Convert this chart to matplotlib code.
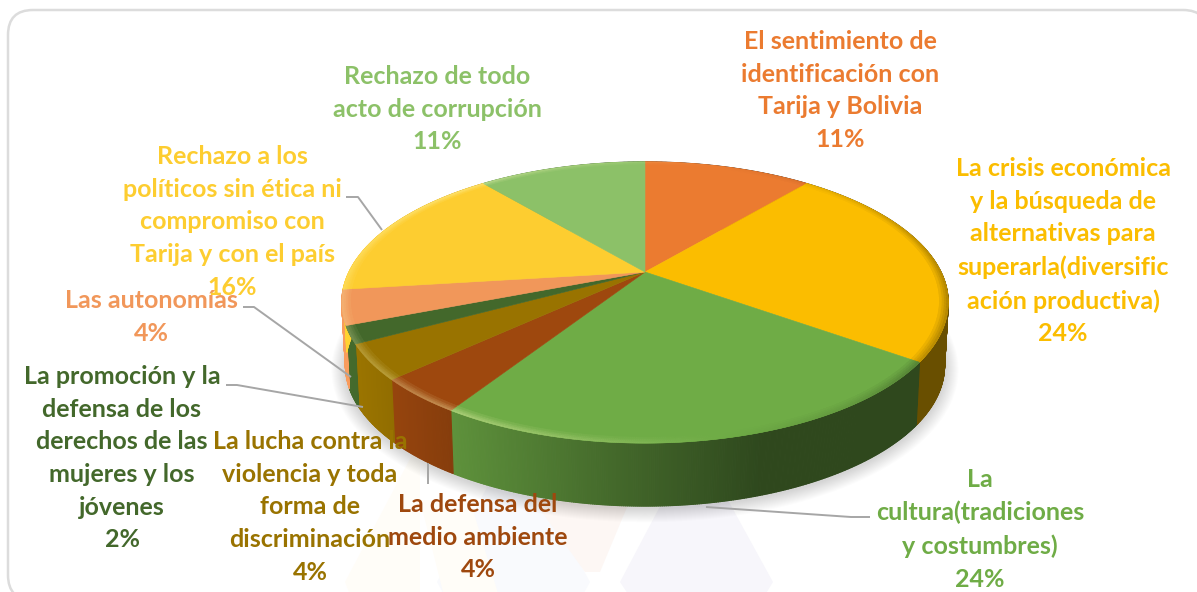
import numpy as np
import matplotlib
matplotlib.use('Agg')
import matplotlib.pyplot as plt
from matplotlib.collections import PolyCollection
from matplotlib.colors import to_rgb
from matplotlib.patches import FancyBboxPatch

# --- Data, clockwise from the top of the pie ---
labels = [
    'El sentimiento de\nidentificación con\nTarija y Bolivia',
    'La crisis económica\ny la búsqueda de\nalternativas para\nsuperarla(diversific\nación productiva)',
    'La\ncultura(tradiciones\ny costumbres)',
    'La defensa del\nmedio ambiente',
    'La lucha contra la\nviolencia y toda\nforma de\ndiscriminación',
    'La promoción y la\ndefensa de los\nderechos de las\nmujeres y los\njóvenes',
    'Las autonomías',
    'Rechazo a los\npolíticos sin ética ni\ncompromiso con\nTarija y con el país',
    'Rechazo de todo\nacto de corrupción',
]
values = [11, 24, 24, 4, 4, 2, 4, 16, 11]
colors = ['#eb7b30', '#fbbd00', '#6fac46', '#9e480e', '#997300',
          '#43682b', '#f1975a', '#fdcd30', '#8cc168']

# label centre x and y of first line, in pixels
label_x = [840, 1063, 980, 478, 310, 122, 151, 232, 437]
label_y = [42, 169, 480, 505, 442, 377, 301, 157, 77]

# leader lines
leader_x = [[346, 358, 382], [243, 254, 351], [226, 237, 363], [428, 428], [706, 851, 870]]
leader_y = [[197, 197, 230], [307, 307, 377], [385, 385, 407], [463, 484], [507, 517, 517]]

# --- Pie geometry (pixels), a circle seen in perspective ---
cx, cy = 645, 272
sx, sy = 296, 134
k = 0.217
wall = 63


def project(theta, r=1.0, depth=0.0):
    u = r * np.sin(theta)
    v = r * np.cos(theta)
    d = 1 + k * v
    shrink = 1 - 0.012 * depth / wall
    return cx + sx * u / d * shrink, cy - sy * v / d + depth


def mix(col, other, t):
    return tuple((1 - t) * a + t * b for a, b in zip(col, other))


fig = plt.figure(figsize=(11.97, 5.92), dpi=100)
ax = fig.add_axes([0, 0, 1, 1])
ax.set_xlim(0, 1197)
ax.set_ylim(592, 0)
ax.axis('off')

# --- Card frame ---
ax.add_patch(FancyBboxPatch((8 + 25, 10 + 25), 1200 - 50, 590 - 50,
                            boxstyle='round,pad=25,rounding_size=25',
                            fc='white', ec='#dcdcdc', lw=1.8, zorder=0))

# --- Faint watermark shapes behind the chart ---
ax.fill([620, 695, 773, 762, 632], [582, 440, 582, 600, 600], color='#f7f6fb', lw=0, zorder=1)
ax.fill([437, 512, 590, 580, 447], [582, 440, 582, 600, 600], color='#f9fafd', lw=0, zorder=1)
ax.fill([345, 420, 420, 352], [582, 440, 600, 600], color='#fffdf8', lw=0, zorder=1)
ax.fill([420, 470, 500, 445], [500, 500, 600, 600], color='#fffdf8', lw=0, zorder=1)
ax.fill([490, 630, 600, 585], [440, 500, 572, 572], color='#fdf7f4', lw=0, zorder=1)

# --- Soft shadow under the pie ---
t = np.linspace(0, 2 * np.pi, 361)
for grow in np.arange(1, 15, 1.0):
    px, py = project(t, 1.0, wall)
    ax.fill(cx + (px - cx) * (1 + grow / 300), cy + wall + (py - cy - wall) * (1 + grow / 170) + 2,
            color='black', alpha=0.012, lw=0, zorder=2)

# --- Slice edges from the values ---
edges = np.cumsum([0] + values) / sum(values) * 2 * np.pi

side_polys, side_cols = [], []
bevel_polys, bevel_cols = [], []
for i, value in enumerate(values):
    base = to_rgb(colors[i])
    th = np.linspace(edges[i], edges[i + 1], max(int(value * 12), 4) + 1)
    # side wall, shaded by horizontal position
    for a, b in zip(th[:-1], th[1:]):
        x0, y0 = project(a)
        x1, y1 = project(b)
        x2, y2 = project(b, 1.0, wall)
        x3, y3 = project(a, 1.0, wall)
        f = np.interp((x0 + x1) / 2, [345, 455, 620, 760], [1.03, 0.84, 0.6, 0.42])
        side_polys.append([(x0, y0), (x1, y1), (x2, y2), (x3, y3)])
        side_cols.append(tuple(min(c * f, 1) for c in base))

    # top face
    rim_x, rim_y = project(th)
    ax.fill(np.r_[cx, rim_x], np.r_[cy, rim_y], color=colors[i], lw=0.4, zorder=5)

    # bevel along the rim
    for a, b in zip(th[:-1], th[1:]):
        xm = project((a + b) / 2)[0]
        light = np.interp(xm, [345, 455, 560, 720, 850, 948], [0.25, 0.4, 0.25, 0.0, 0.0, 0.0])
        dark = np.interp(xm, [720, 850, 948], [0.0, 0.1, 0.28])
        for j, (r0, r1) in enumerate([(1.0, 0.993), (0.993, 0.986), (0.986, 0.979), (0.979, 0.972)]):
            fade = 1 - j / 4
            col = mix(base, (1, 1, 0.75), light * fade)
            col = mix(col, (0, 0, 0), dark * fade)
            xa, ya = project(a, r0)
            xb, yb = project(b, r0)
            xc, yc = project(b, r1)
            xd, yd = project(a, r1)
            bevel_polys.append([(xa, ya), (xb, yb), (xc, yc), (xd, yd)])
            bevel_cols.append(col)

ax.add_collection(PolyCollection(side_polys, facecolors=side_cols, edgecolors=side_cols,
                                 linewidths=0.8, zorder=3))
ax.add_collection(PolyCollection(bevel_polys, facecolors=bevel_cols, edgecolors=bevel_cols,
                                 linewidths=0.3, zorder=6))

# --- Leader lines ---
for lx, ly in zip(leader_x, leader_y):
    ax.plot(lx, ly, color='#a6a6a6', lw=1.4, zorder=7, solid_capstyle='butt')

# --- Labels ---
for i, name in enumerate(labels):
    txt = f'{name}\n{values[i]}%'
    ax.text(label_x[i], label_y[i] - 12, txt, ha='center', va='top', color=colors[i],
            family='Lato', weight='bold', fontsize=18, linespacing=1.51, zorder=8)

fig.savefig('out.png', dpi=100)
